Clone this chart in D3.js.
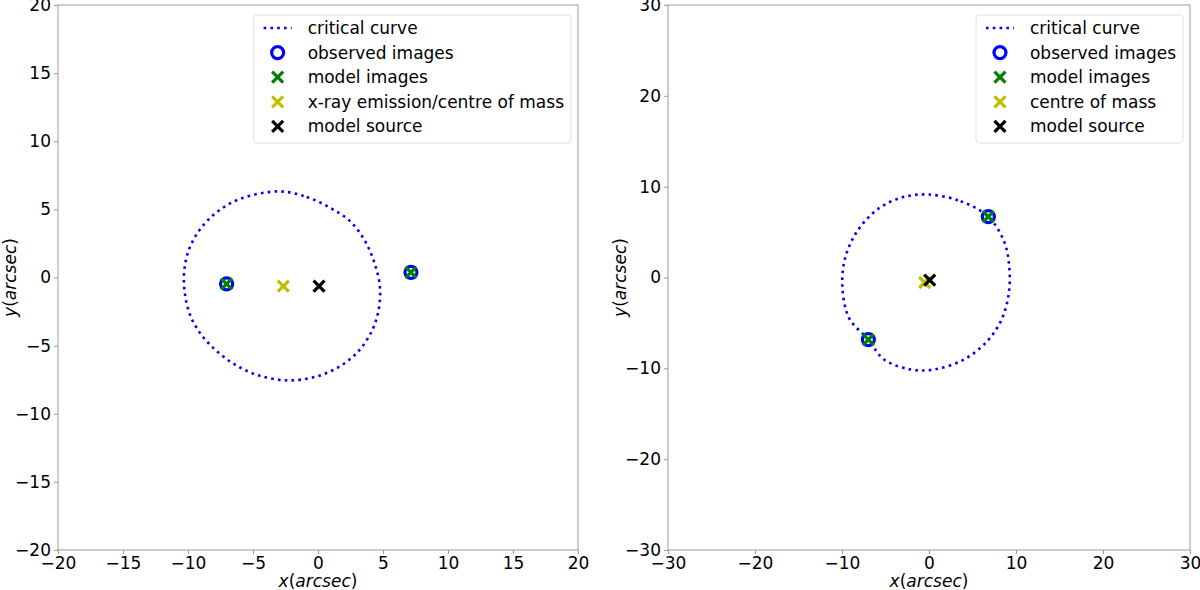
<!DOCTYPE html>
<html>
<head>
<meta charset="utf-8">
<script src="https://cdn.jsdelivr.net/npm/d3@7"></script>
<style>
  body { margin: 0; background: white; }
  svg { display: block; }
  text { font-family: "DejaVu Sans", sans-serif; }
</style>
</head>
<body>
<div id="chart"></div>
<script>
// left panel: critical curve points
const leftCurveX = [-3.0, -0.87, 0.92, 2.46, 3.62, 4.38, 4.77, 4.64, 4.13, 3.1, 1.69, -0.1, -2.35, -4.59, -6.38, -7.92, -9.08, -9.85, -10.23, -10.3, -9.97, -9.08, -7.67, -5.87];
const leftCurveY = [6.32, 5.91, 5.12, 4.14, 2.67, 0.96, -0.76, -2.48, -3.95, -5.42, -6.52, -7.26, -7.55, -7.18, -6.4, -5.29, -4.07, -2.72, -1.25, 0.34, 1.94, 3.53, 4.88, 5.81];
const leftObsX = [-7.03, 7.15];
const leftObsY = [-0.47, 0.38];
const leftModelX = [-7.03, 7.15];
const leftModelY = [-0.47, 0.38];
const leftComX = [-2.67];
const leftComY = [-0.64];
const leftSrcX = [0.08];
const leftSrcY = [-0.64];
const leftTicks = [-20, -15, -10, -5, 0, 5, 10, 15, 20];
const leftLabels = ["critical curve", "observed images", "model images", "x-ray emission/centre of mass", "model source"];

// right panel
const rightCurveX = [-0.2, 3.64, 6.82, 8.62, 9.2, 9.2, 8.43, 6.7, 4.02, 0.57, -2.1, -5.17, -6.97, -9.2, -9.97, -9.58, -8.24, -5.94, -3.25];
const rightCurveY = [9.14, 8.4, 6.68, 4.0, 1.43, -1.5, -4.44, -7.0, -9.03, -10.13, -10.13, -9.03, -6.83, -4.44, -0.77, 2.35, 5.1, 7.49, 8.78];
const rightObsX = [6.82, -6.97];
const rightObsY = [6.7, -6.83];
const rightModelX = [6.82, -6.97];
const rightModelY = [6.7, -6.83];
const rightComX = [-0.5];
const rightComY = [-0.55];
const rightSrcX = [0.08];
const rightSrcY = [-0.3];
const rightTicks = [-30, -20, -10, 0, 10, 20, 30];
const rightLabels = ["critical curve", "observed images", "model images", "centre of mass", "model source"];

const width = 1200, height = 590;
const svg = d3.select("#chart").append("svg")
  .attr("width", width)
  .attr("height", height);

const spine = "#999";
const fontSize = 17;

function crossPath(s) {
  return `M${-s},${-s}L${s},${s}M${-s},${s}L${s},${-s}`;
}

function drawPanel(p) {
  const x = d3.scaleLinear().domain(p.domain).range([p.left, p.right]);
  const y = d3.scaleLinear().domain(p.domain).range([p.bottom, p.top]);

  const g = svg.append("g");

  // Eixo X
  const gx = g.append("g")
    .attr("transform", `translate(0,${p.bottom})`)
    .call(d3.axisBottom(x).tickValues(p.ticks).tickSize(4).tickSizeOuter(0).tickPadding(3));
  gx.select(".domain").remove();
  gx.selectAll("line").attr("stroke", spine);
  gx.selectAll("text").style("font-size", fontSize + "px").attr("fill", "black");

  // Eixo Y
  const gy = g.append("g")
    .attr("transform", `translate(${p.left},0)`)
    .call(d3.axisLeft(y).tickValues(p.ticks).tickSize(4).tickSizeOuter(0).tickPadding(3));
  gy.select(".domain").remove();
  gy.selectAll("line").attr("stroke", spine);
  gy.selectAll("text").style("font-size", fontSize + "px").attr("fill", "black");

  // moldura
  g.append("rect")
    .attr("x", p.left).attr("y", p.top)
    .attr("width", p.right - p.left).attr("height", p.bottom - p.top)
    .attr("fill", "none").attr("stroke", spine).attr("stroke-width", 1);

  // curva crítica
  const pts = p.curveX.map((v, i) => [v, p.curveY[i]]);
  g.append("path")
    .datum(pts)
    .attr("d", d3.line().x(d => x(d[0])).y(d => y(d[1])).curve(d3.curveCatmullRomClosed))
    .attr("fill", "none")
    .attr("stroke", "#0000ff")
    .attr("stroke-width", 2.6)
    .attr("stroke-dasharray", "2.6 4.2");

  // imagens observadas
  g.selectAll(".obs")
    .data(p.obsX.map((v, i) => [v, p.obsY[i]]))
    .enter().append("circle")
    .attr("cx", d => x(d[0])).attr("cy", d => y(d[1]))
    .attr("r", 6).attr("fill", "none")
    .attr("stroke", "#0000ff").attr("stroke-width", 3.2);

  const crosses = [
    [p.modelX, p.modelY, "#008000"],
    [p.comX, p.comY, "#bfbf00"],
    [p.srcX, p.srcY, "black"]
  ];
  crosses.forEach(([xs, ys, col]) => {
    g.selectAll(null)
      .data(xs.map((v, i) => [v, ys[i]]))
      .enter().append("path")
      .attr("transform", d => `translate(${x(d[0])},${y(d[1])})`)
      .attr("d", crossPath(5.5))
      .attr("stroke", col).attr("stroke-width", 3.2).attr("fill", "none");
  });

  // rótulos dos eixos
  const xl = g.append("text")
    .attr("x", (p.left + p.right) / 2)
    .attr("y", 587)
    .attr("text-anchor", "middle")
    .style("font-size", fontSize + "px");
  xl.append("tspan").attr("font-style", "italic").text("x");
  xl.append("tspan").text("(");
  xl.append("tspan").attr("font-style", "italic").text("arcsec");
  xl.append("tspan").text(")");

  const yl = g.append("text")
    .attr("transform", `translate(${p.left - 42},${(p.top + p.bottom) / 2}) rotate(-90)`)
    .attr("text-anchor", "middle")
    .style("font-size", fontSize + "px");
  yl.append("tspan").attr("font-style", "italic").text("y");
  yl.append("tspan").text("(");
  yl.append("tspan").attr("font-style", "italic").text("arcsec");
  yl.append("tspan").text(")");

  // legenda
  const leg = g.append("g");
  const box = leg.append("rect")
    .attr("fill", "white")
    .attr("stroke", "#e0e0e0")
    .attr("rx", 3);
  const rowH = 24.6;
  const texts = [];
  p.labels.forEach((lab, i) => {
    const t = leg.append("text")
      .attr("x", 54)
      .attr("y", 13 + i * rowH)
      .attr("dy", "0.35em")
      .style("font-size", fontSize + "px")
      .text(lab);
    texts.push(t.node().getComputedTextLength());
  });
  const bw = 54 + d3.max(texts) + 7;
  const bh = 128;
  box.attr("width", bw).attr("height", bh);
  leg.attr("transform", `translate(${p.right - 7 - bw},${p.top + 10})`);

  leg.append("line")
    .attr("x1", 10).attr("x2", 38).attr("y1", 13).attr("y2", 13)
    .attr("stroke", "#0000ff").attr("stroke-width", 2.6)
    .attr("stroke-dasharray", "2.6 4.2");
  leg.append("circle")
    .attr("cx", 24).attr("cy", 13 + rowH).attr("r", 6)
    .attr("fill", "none").attr("stroke", "#0000ff").attr("stroke-width", 3.2);
  ["#008000", "#bfbf00", "black"].forEach((col, i) => {
    leg.append("path")
      .attr("transform", `translate(24,${13 + (i + 2) * rowH})`)
      .attr("d", crossPath(5.5))
      .attr("stroke", col).attr("stroke-width", 3.2).attr("fill", "none");
  });
}

drawPanel({
  domain: [-20, 20], left: 58, right: 578, top: 5, bottom: 550,
  ticks: leftTicks, labels: leftLabels,
  curveX: leftCurveX, curveY: leftCurveY,
  obsX: leftObsX, obsY: leftObsY,
  modelX: leftModelX, modelY: leftModelY,
  comX: leftComX, comY: leftComY,
  srcX: leftSrcX, srcY: leftSrcY
});

drawPanel({
  domain: [-30, 30], left: 668, right: 1190, top: 5, bottom: 550,
  ticks: rightTicks, labels: rightLabels,
  curveX: rightCurveX, curveY: rightCurveY,
  obsX: rightObsX, obsY: rightObsY,
  modelX: rightModelX, modelY: rightModelY,
  comX: rightComX, comY: rightComY,
  srcX: rightSrcX, srcY: rightSrcY
});
</script>
</body>
</html>
